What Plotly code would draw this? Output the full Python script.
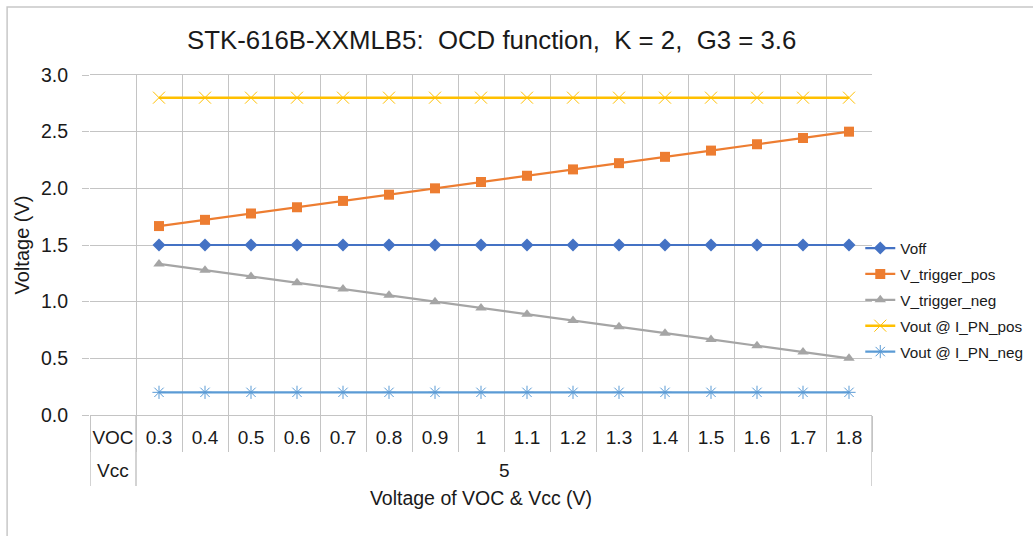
import plotly.graph_objects as go

voc_labels = ["0.3", "0.4", "0.5", "0.6", "0.7", "0.8", "0.9", "1", "1.1", "1.2",
              "1.3", "1.4", "1.5", "1.6", "1.7", "1.8"]
categories = ["VOC"] + voc_labels
vcc_label = "5"

voff = [1.5] * 16
v_trigger_pos = [1.667, 1.722, 1.778, 1.833, 1.889, 1.944, 2.0, 2.056, 2.111, 2.167,
                 2.222, 2.278, 2.333, 2.389, 2.444, 2.5]
v_trigger_neg = [1.333, 1.278, 1.222, 1.167, 1.111, 1.056, 1.0, 0.944, 0.889, 0.833,
                 0.778, 0.722, 0.667, 0.611, 0.556, 0.5]
vout_pos = [2.8] * 16
vout_neg = [0.2] * 16

FONT = "Liberation Sans, Arial, sans-serif"
GRID = "#c4c4c4"
TXT = "#1a1a1a"

fig = go.Figure()
series = [
    ("Voff", voff, "#4472C4", "diamond", 10, 2.2),
    ("V_trigger_pos", v_trigger_pos, "#ED7D31", "square", 10, 2.2),
    ("V_trigger_neg", v_trigger_neg, "#A5A5A5", "triangle-up", 10, 2.2),
    ("Vout @ I_PN_pos", vout_pos, "#FFC000", "x-thin", 12, 2.5),
    ("Vout @ I_PN_neg", vout_neg, "#5B9BD5", "asterisk", 11, 2.2),
]
for name, vals, col, sym, sz, lw in series:
    if sym in ("x-thin", "asterisk"):
        marker = dict(symbol=sym, size=sz, color=col, line=dict(color=col, width=1))
    else:
        marker = dict(symbol=sym, size=sz, color=col, line=dict(width=0))
    fig.add_trace(go.Scatter(
        x=voc_labels, y=vals, name=name, legendgroup=name, mode="lines+markers",
        line=dict(color=col, width=lw), marker=marker, cliponaxis=False,
    ))

fig.update_layout(
    width=1033, height=536,
    margin=dict(l=90, r=161, t=75, b=121, autoexpand=False),
    paper_bgcolor="white", plot_bgcolor="white",
    font=dict(family=FONT, size=16, color=TXT),
    title=dict(text="STK-616B-XXMLB5:  OCD function,  K = 2,  G3 = 3.6",
               x=0.476, xanchor="center", y=0.926, yanchor="middle",
               font=dict(size=25.8, color=TXT)),
    showlegend=True,
    legend=dict(x=0.985, xanchor="left", y=0.338, yanchor="middle",
                font=dict(size=15.3, color=TXT), itemwidth=30,
                tracegroupgap=3, bgcolor="rgba(0,0,0,0)"),
)
fig.update_xaxes(
    type="category", categoryorder="array", categoryarray=categories,
    range=[-0.5, 16.5], tickson="boundaries", showgrid=True, gridcolor=GRID,
    gridwidth=1, ticks="outside", ticklen=36, tickcolor=GRID, tickwidth=1,
    tickangle=0, showline=True, linecolor=GRID, mirror=True,
    tickfont=dict(size=19, color=TXT), ticklabelstandoff=5,
    title=dict(text="Voltage of VOC & Vcc (V)", font=dict(size=19.5, color=TXT),
               standoff=44),
)
fig.update_yaxes(
    range=[0, 3], dtick=0.5, tickformat=".1f", showgrid=True, gridcolor=GRID,
    ticks="outside", ticklen=7, tickcolor=GRID, zeroline=False,
    showline=False, tickfont=dict(size=19.5, color=TXT), ticklabelstandoff=10,
    title=dict(text="Voltage (V)", font=dict(size=20, color=TXT), standoff=5),
)

# Second level of the category axis (Vcc row)
for xc in [-0.5, 0.5, 16.5]:
    fig.add_shape(type="line", xref="x", yref="paper", x0=xc, x1=xc, y0=0, y1=-0.209,
                  line=dict(color=GRID, width=1.5))
fig.add_annotation(x="VOC", xref="x", y=-0.162, yref="paper", yanchor="middle",
                   text="Vcc", showarrow=False, font=dict(size=19, color=TXT))
fig.add_annotation(x=8.5, xref="x", y=-0.162, yref="paper", yanchor="middle",
                   text=vcc_label, showarrow=False, font=dict(size=19, color=TXT))

# outer chart border
fig.add_shape(type="rect", xref="paper", yref="paper", x0=-0.106, x1=1.3, y0=-0.5, y1=1.2,
              line=dict(color="#c8c8c8", width=1.5))

fig.write_html("out.html")
